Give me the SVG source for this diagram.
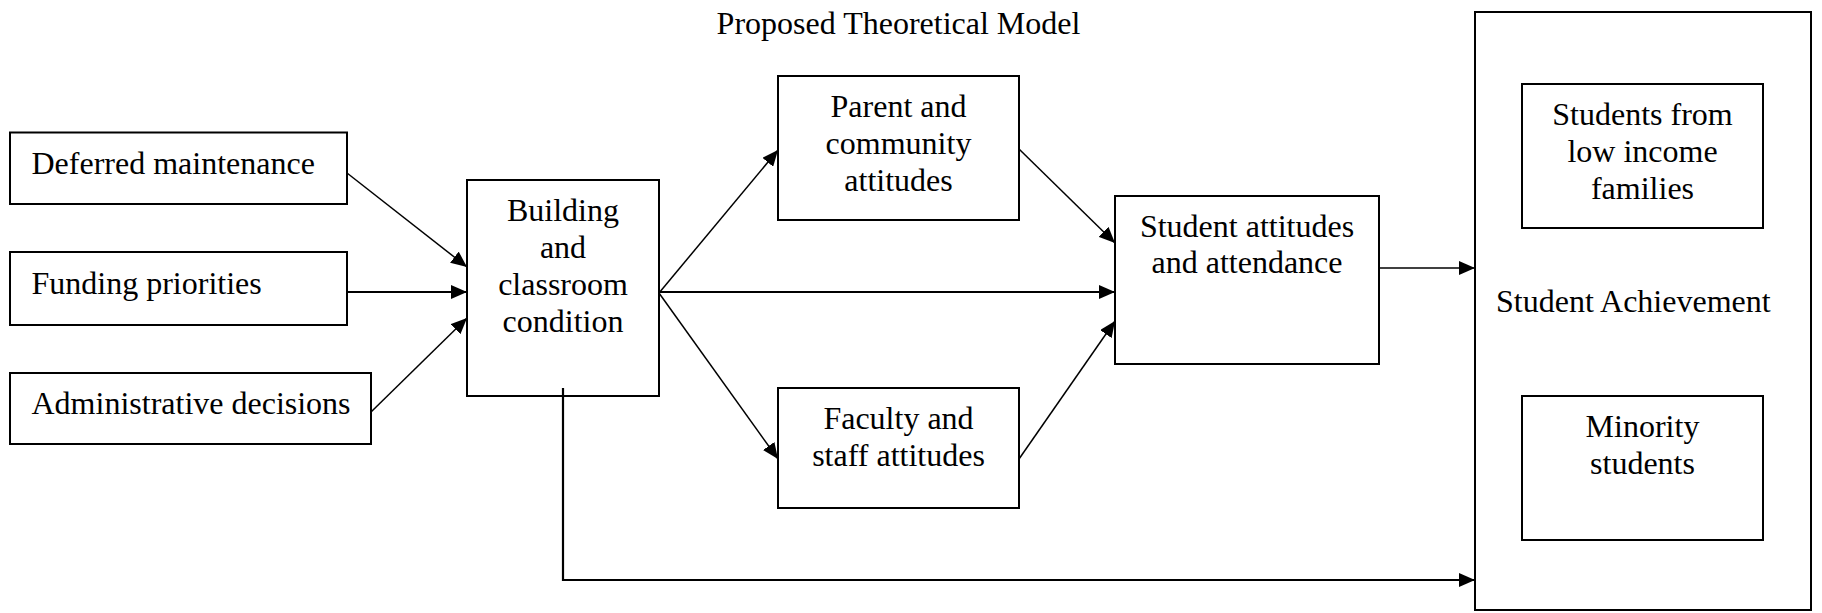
<svg xmlns="http://www.w3.org/2000/svg" width="1822" height="613" viewBox="0 0 1822 613">
  <style>
    .box { fill: #fff; stroke: #000; stroke-width: 2; }
    .lbl { font-family: "Liberation Serif", "Times New Roman", serif; font-size: 32px; fill: #000; }
    .mid { text-anchor: middle; }
    .thin { fill: none; stroke: #000; stroke-width: 1.5; }
    .thick { fill: none; stroke: #000; stroke-width: 2.2; }
  </style>
  <defs>
    <marker id="arrow" markerUnits="userSpaceOnUse" markerWidth="16" markerHeight="14" refX="16" refY="7" orient="auto">
      <path d="M0,0 L16,7 L0,14 Z" fill="#000"/>
    </marker>
  </defs>

  <rect width="1822" height="613" fill="#fff"/>

  <text id="title" class="lbl mid" x="898.5" y="33.5">Proposed Theoretical Model</text>

  <g id="deferred">
    <rect class="box" x="10" y="132.5" width="337" height="71.5"/>
    <text class="lbl" x="31.5" y="173.5">Deferred maintenance</text>
  </g>
  <g id="funding">
    <rect class="box" x="10" y="252" width="337" height="73"/>
    <text class="lbl" x="31.5" y="293.5">Funding priorities</text>
  </g>
  <g id="administrative">
    <rect class="box" x="10" y="373" width="361" height="71"/>
    <text class="lbl" x="31.5" y="413.5">Administrative decisions</text>
  </g>

  <g id="building">
    <rect class="box" x="467" y="180" width="192" height="216"/>
    <text class="lbl mid" x="563" y="220.5">Building</text>
    <text class="lbl mid" x="563" y="257.5">and</text>
    <text class="lbl mid" x="563" y="294.5">classroom</text>
    <text class="lbl mid" x="563" y="331.5">condition</text>
  </g>

  <g id="parent">
    <rect class="box" x="778" y="76" width="241" height="144"/>
    <text class="lbl mid" x="898.5" y="116.5">Parent and</text>
    <text class="lbl mid" x="898.5" y="153.5">community</text>
    <text class="lbl mid" x="898.5" y="190.5">attitudes</text>
  </g>

  <g id="faculty">
    <rect class="box" x="778" y="388" width="241" height="120"/>
    <text class="lbl mid" x="898.5" y="429">Faculty and</text>
    <text class="lbl mid" x="898.5" y="466">staff attitudes</text>
  </g>

  <g id="student-attitudes">
    <rect class="box" x="1115" y="196" width="264" height="168"/>
    <text class="lbl mid" x="1247" y="237">Student attitudes</text>
    <text class="lbl mid" x="1247" y="273">and attendance</text>
  </g>

  <g id="achievement">
    <rect class="box" x="1475" y="12" width="336" height="598"/>
    <text class="lbl" x="1496" y="312">Student Achievement</text>
    <g id="low-income">
      <rect class="box" x="1522" y="84" width="241" height="144"/>
      <text class="lbl mid" x="1642.5" y="125">Students from</text>
      <text class="lbl mid" x="1642.5" y="162">low income</text>
      <text class="lbl mid" x="1642.5" y="199">families</text>
    </g>
    <g id="minority">
      <rect class="box" x="1522" y="396" width="241" height="144"/>
      <text class="lbl mid" x="1642.5" y="437">Minority</text>
      <text class="lbl mid" x="1642.5" y="474">students</text>
    </g>
  </g>

  <!-- connectors, drawn last so the drop line shows inside the building box -->
  <g id="connectors">
    <line class="thin" x1="347" y1="173" x2="467" y2="267" marker-end="url(#arrow)"/>
    <line class="thick" x1="347" y1="292" x2="467" y2="292" marker-end="url(#arrow)"/>
    <line class="thin" x1="371" y1="412" x2="467" y2="318" marker-end="url(#arrow)"/>
    <line class="thin" x1="659" y1="293" x2="778" y2="150" marker-end="url(#arrow)"/>
    <line class="thick" x1="659" y1="292" x2="1115" y2="292" marker-end="url(#arrow)"/>
    <line class="thin" x1="659" y1="293" x2="778" y2="459" marker-end="url(#arrow)"/>
    <line class="thin" x1="1019" y1="149" x2="1115" y2="243" marker-end="url(#arrow)"/>
    <line class="thin" x1="1019" y1="459" x2="1115" y2="321" marker-end="url(#arrow)"/>
    <line class="thin" x1="1379" y1="268" x2="1475" y2="268" marker-end="url(#arrow)"/>
    <polyline class="thick" points="563,388 563,580 1475,580" marker-end="url(#arrow)"/>
  </g>
</svg>
